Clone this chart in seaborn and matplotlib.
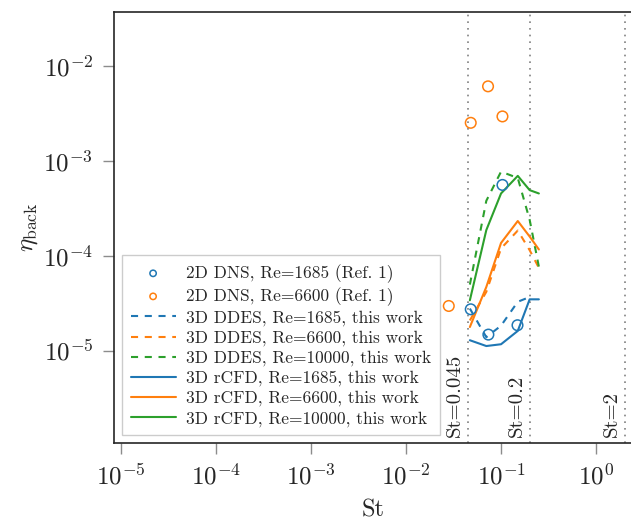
import matplotlib
matplotlib.use("Agg")
import matplotlib.pyplot as plt
import matplotlib.transforms as mtransforms
import seaborn as sns
import pandas as pd

# ---- data ----
dns_1685_st = [0.048, 0.0736, 0.1035, 0.149]
dns_1685_eta = [2.75e-5, 1.49e-5, 5.58e-4, 1.87e-5]
dns_6600_st = [0.0282, 0.048, 0.073, 0.1035]
dns_6600_eta = [2.98e-5, 2.51e-3, 6.07e-3, 2.93e-3]

st_ddes_1685 = [0.047, 0.07, 0.1, 0.15, 0.2]
ddes_1685 = [2.8e-5, 1.4e-5, 1.85e-5, 3.3e-5, 3.7e-5]
st_ddes = [0.047, 0.07, 0.1, 0.15, 0.2, 0.25]
ddes_6600 = [2.1e-5, 4.2e-5, 1.2e-4, 1.85e-4, 1.15e-4, 7.5e-5]
ddes_10000 = [5.0e-5, 3.8e-4, 7.7e-4, 6.6e-4, 2.4e-4, 7.7e-5]

st_rcfd = [0.047, 0.07, 0.1, 0.15, 0.2, 0.25]
rcfd_1685 = [1.3e-5, 1.13e-5, 1.18e-5, 1.63e-5, 3.5e-5, 3.5e-5]
rcfd_6600 = [1.79e-5, 4.72e-5, 1.37e-4, 2.33e-4, 1.6e-4, 1.17e-4]
rcfd_10000 = [3.42e-5, 1.87e-4, 4.54e-4, 6.95e-4, 4.92e-4, 4.54e-4]

st_lines = [0.045, 0.2, 2]
st_line_labels = ["St=0.045", "St=0.2", "St=2"]

C_BLUE, C_ORANGE, C_GREEN = "#1f77b4", "#ff7f0e", "#2ca02c"

# ---- style ----
sns.set_style("ticks")
plt.rcParams["font.family"] = ["cmr10", "DejaVu Serif"]
plt.rcParams["mathtext.fontset"] = "cm"
plt.rcParams["axes.formatter.use_mathtext"] = True
plt.rcParams["axes.unicode_minus"] = False
plt.rcParams["axes.edgecolor"] = "0.15"
plt.rcParams["axes.linewidth"] = 1.2

fig = plt.figure(figsize=(6.31, 5.22), dpi=100)
ax = fig.add_axes([0.1807, 0.1513, 0.8213, 0.8257])

dash = (0, (3.4, 3.2))

sns.scatterplot(x=dns_1685_st, y=dns_1685_eta, ax=ax, marker="o", s=58,
                color=C_BLUE, facecolor="none", edgecolor=C_BLUE, linewidth=1.1,
                label="2D DNS, Re=1685 (Ref. 1)", zorder=3)
sns.scatterplot(x=dns_6600_st, y=dns_6600_eta, ax=ax, marker="o", s=58,
                color=C_ORANGE, facecolor="none", edgecolor=C_ORANGE, linewidth=1.1,
                label="2D DNS, Re=6600 (Ref. 1)", zorder=3)

series = [
    (st_ddes_1685, ddes_1685, C_BLUE, dash, "3D DDES, Re=1685, this work"),
    (st_ddes, ddes_6600, C_ORANGE, dash, "3D DDES, Re=6600, this work"),
    (st_ddes, ddes_10000, C_GREEN, dash, "3D DDES, Re=10000, this work"),
    (st_rcfd, rcfd_1685, C_BLUE, "-", "3D rCFD, Re=1685, this work"),
    (st_rcfd, rcfd_6600, C_ORANGE, "-", "3D rCFD, Re=6600, this work"),
    (st_rcfd, rcfd_10000, C_GREEN, "-", "3D rCFD, Re=10000, this work"),
]
for xs, ys, c, ls, lab in series:
    df = pd.DataFrame({"St": xs, "eta": ys})
    sns.lineplot(data=df, x="St", y="eta", ax=ax, color=c, linestyle=ls,
                 linewidth=1.5, label=lab, sort=False, errorbar=None)

ax.set_xscale("log")
ax.set_yscale("log")
ax.set_xlim(8.5e-6, 2.4)
ax.set_ylim(1.08e-6, 3.67e-2)
ax.minorticks_off()

for xv, lab in zip(st_lines, st_line_labels):
    ax.axvline(xv, color="0.5", linestyle=(0, (1, 3)), linewidth=1.2, zorder=1)
    trans = mtransforms.offset_copy(ax.transData, fig=fig, x=-4, y=0, units="dots")
    ax.text(xv, 1.24e-6, lab, rotation=90, ha="right", va="bottom",
            fontsize=15, transform=trans)

ax.tick_params(axis="both", which="major", length=8, width=1.0, color="0.55",
               labelsize=18, pad=7)
ax.set_xlabel("St", fontsize=17.5, labelpad=7)
ax.set_ylabel(r"$\eta_{\mathrm{back}}$", fontsize=18, labelpad=2)

leg = ax.legend(loc="lower left", fontsize=12.5, handlelength=2.6, markerscale=0.6,
                fancybox=False, edgecolor="0.8", framealpha=1, borderaxespad=0.45,
                labelspacing=0.25, handletextpad=0.6, borderpad=0.5)
leg.get_frame().set_linewidth(1.0)

sns.despine(ax=ax, top=False, right=False)
fig.savefig("out.png", dpi=100)
